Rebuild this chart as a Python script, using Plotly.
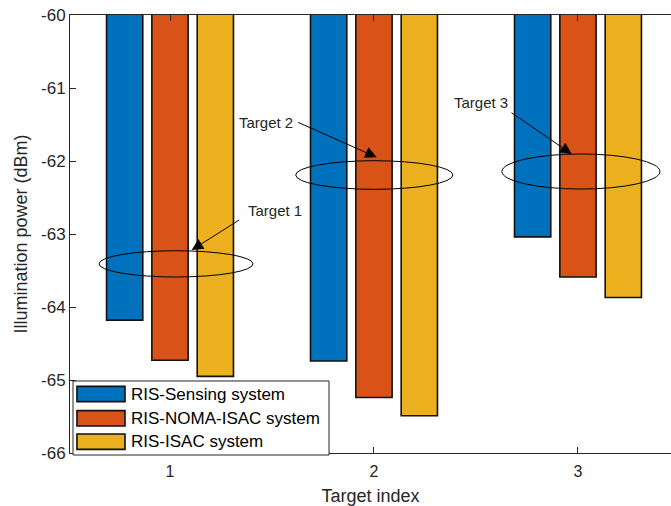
import plotly.graph_objects as go

# Data
targets = [1, 2, 3]
series_names = ["RIS-Sensing system", "RIS-NOMA-ISAC system", "RIS-ISAC system"]
sensing = [-64.18, -64.74, -63.04]
noma_isac = [-64.73, -65.24, -63.59]
isac = [-64.95, -65.49, -63.87]
colors = ["#0072BD", "#D95319", "#EDB120"]
y_ticks = [-66, -65, -64, -63, -62, -61, -60]
y_ticklabels = ["-66", "-65", "-64", "-63", "-62", "-61", "-60"]

FONT = "Liberation Sans, Arial, sans-serif"
TXT = "#262626"

fig = go.Figure()
for name, vals, col in zip(series_names, [sensing, noma_isac, isac], colors):
    fig.add_trace(go.Bar(
        x=targets, y=vals, name=name,
        marker=dict(color=col, line=dict(color="#111111", width=1.6)),
        showlegend=False,
    ))

# Ellipses marking each target group (x0, x1, y0, y1 in data units)
ellipses = [
    (0.652, 1.407, -63.229, -63.589),
    (1.616, 2.387, -61.996, -62.388),
    (2.627, 3.402, -61.904, -62.384),
]
for x0, x1, y0, y1 in ellipses:
    fig.add_shape(type="circle", xref="x", yref="y", x0=x0, x1=x1, y0=y0, y1=y1,
                  line=dict(color="black", width=1))

# Arrows: (head_x, head_y, tail_x, tail_y)
arrows = [
    (1.1064, -63.219, 1.3466, -62.795),
    (2.0132, -61.949, 1.621, -61.462),
    (2.969, -61.904, 2.6667, -61.325),
]
for hx, hy, tx, ty in arrows:
    fig.add_annotation(x=hx, y=hy, ax=tx, ay=ty, xref="x", yref="y", axref="x", ayref="y",
                       text="", showarrow=True, arrowhead=2, arrowsize=2.3, arrowwidth=1,
                       arrowcolor="black", standoff=0, startstandoff=0)

labels = [("Target 1", 1.517, -62.681), ("Target 2", 1.473, -61.479), ("Target 3", 2.524, -61.205)]
for t, x, y in labels:
    fig.add_annotation(x=x, y=y, xref="x", yref="y", text=t, showarrow=False,
                       font=dict(family=FONT, size=15, color=TXT))

# Legend drawn in the lower-left corner of the axes
fig.add_shape(type="rect", xref="paper", yref="paper", x0=0.005, x1=0.431, y0=-0.0046, y1=0.1644,
              line=dict(color="#262626", width=1), fillcolor="white", layer="above")
row_y = [0.1347, 0.0792, 0.0258]
for name, col, ry in zip(series_names, colors, row_y):
    fig.add_shape(type="rect", xref="paper", yref="paper", x0=0.0116, x1=0.0915,
                  y0=ry - 0.0175, y1=ry + 0.0175,
                  line=dict(color="#111111", width=1.6), fillcolor=col, layer="above")
    fig.add_annotation(x=0.098, y=ry, xref="paper", yref="paper", text=name, showarrow=False,
                       xanchor="left", yanchor="middle",
                       font=dict(family=FONT, size=17, color="black"))

fig.update_layout(
    width=671, height=506,
    margin=dict(l=70, r=0, t=15, b=53),
    paper_bgcolor="white", plot_bgcolor="white",
    barmode="group", bargap=1/3, bargroupgap=0.2,
    font=dict(family=FONT, size=16, color=TXT),
    showlegend=False,
)
fig.update_xaxes(
    range=[0.5098, 3.456], tickvals=targets, ticktext=[str(t) for t in targets],
    showline=True, linecolor="#262626", linewidth=1, mirror="ticks",
    ticks="inside", ticklen=6, tickcolor="#262626", showgrid=False, zeroline=False,
    tickfont=dict(family=FONT, size=16, color=TXT), ticklabelstandoff=4,
    title=dict(text="Target index", font=dict(family=FONT, size=18, color=TXT), standoff=14),
)
fig.update_yaxes(
    range=[-66, -60], tickvals=y_ticks, ticktext=y_ticklabels,
    showline=True, linecolor="#262626", linewidth=1, mirror=False,
    ticks="inside", ticklen=6, tickcolor="#262626", showgrid=False, zeroline=False,
    tickfont=dict(family=FONT, size=17, color=TXT),
    title=dict(text="Illumination power (dBm)", font=dict(family=FONT, size=18, color=TXT), standoff=8),
)

fig.write_html("out.html")
